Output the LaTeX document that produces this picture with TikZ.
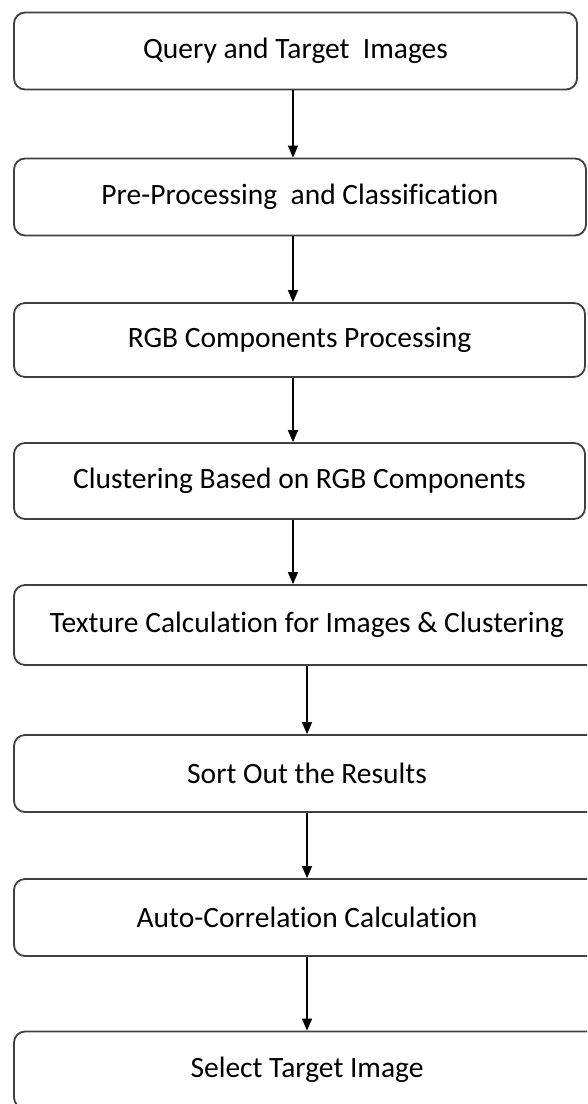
\documentclass[tikz,border=0pt]{standalone}
\usepackage{fontspec}
\setmainfont{Carlito}[RawFeature={-liga;-clig}]
\usetikzlibrary{arrows.meta}
\tikzset{
	stepbox/.style={draw=black!75,line width=1.8pt,rounded corners=11pt,minimum height=77pt,inner sep=0pt,font=\fontsize{29.5}{34}\selectfont},
	flow/.style={line width=1.4pt,-{Triangle[width=10pt,length=12pt]}}
}
\begin{document}
\begin{tikzpicture}[x=1pt,y=-1pt]
	\useasboundingbox (0,0) rectangle (587,1104);
	\clip (0,0) rectangle (587,1104);
	\node[stepbox,minimum width=563pt] (query) at (295.5,51) {Query and Target\ \ Images};
	\node[stepbox,minimum width=572pt] (pre) at (300,197) {Pre-Processing\ \ and Classification};
	\node[stepbox,minimum width=571pt,minimum height=74pt] (rgb) at (299.5,340) {RGB Components Processing};
	\node[stepbox,minimum width=571pt,minimum height=76pt] (clus) at (299.5,481) {Clustering Based on RGB Components};
	\node[stepbox,minimum width=586pt,minimum height=80pt] (tex) at (307,625) {Texture Calculation for Images \& Clustering};
	\node[stepbox,minimum width=586pt] (sort) at (307,773.5) {Sort Out the Results};
	\node[stepbox,minimum width=586pt] (auto) at (307,917.5) {Auto-Correlation Calculation};
	\node[stepbox,minimum width=586pt] (sel) at (307,1070) {Select Target Image};
	\draw[flow] (query.south -| 293,0) -- (pre.north -| 293,0);
	\draw[flow] (pre.south -| 293,0) -- (rgb.north -| 293,0);
	\draw[flow] (rgb.south -| 293,0) -- (clus.north -| 293,0);
	\draw[flow] (clus.south -| 293,0) -- (tex.north -| 293,0);
	\draw[flow] (tex.south) -- (sort.north);
	\draw[flow] (sort.south) -- (auto.north);
	\draw[flow] (auto.south) -- (sel.north);
\end{tikzpicture}
\end{document}
